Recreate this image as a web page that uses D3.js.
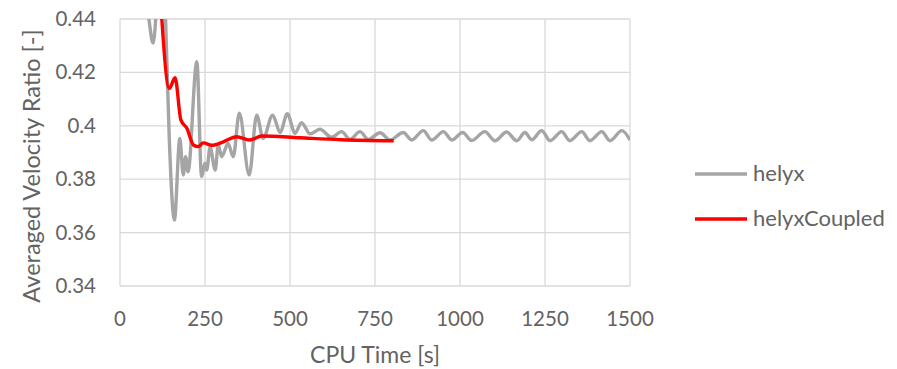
<!DOCTYPE html>
<html>
<head>
<meta charset="utf-8">
<script src="https://cdn.jsdelivr.net/npm/d3@7"></script>
<style>
  body { margin: 0; background: #fff; }
  svg text { font-family: Lato, "Liberation Sans", sans-serif; fill: #636363; }
</style>
</head>
<body>
<script>
// values (CPU time in s, averaged velocity ratio)
const helyxTime = [60, 85, 97, 105, 115, 128, 134, 145, 160, 176, 186, 193, 200, 226, 240, 250, 255, 265, 280, 289, 299, 318, 333,
  351, 380, 402, 421, 449, 471, 492, 515, 534, 559, 588, 622, 652, 676, 706, 730, 765, 794, 833, 858, 892, 917, 951, 976,
  1008, 1034, 1073, 1103, 1137, 1167, 1191, 1211, 1240, 1265, 1299, 1323, 1358, 1382, 1417, 1441, 1476, 1500]
const helyxValue = [0.47, 0.44, 0.431, 0.44, 0.47, 0.46, 0.44, 0.395, 0.3647, 0.3953, 0.3816, 0.3884, 0.3828, 0.424, 0.381, 0.386,
  0.3834, 0.392, 0.3834, 0.3928, 0.3884, 0.3934, 0.3884, 0.4047, 0.3816, 0.404, 0.3953, 0.404, 0.3975, 0.4045, 0.3972, 0.4012,
  0.397, 0.3987, 0.3957, 0.3978, 0.3949, 0.3978, 0.3949, 0.3974, 0.3947, 0.3975, 0.3947, 0.3982, 0.3947, 0.3978, 0.3947,
  0.3975, 0.3945, 0.3978, 0.3944, 0.3977, 0.3944, 0.3975, 0.3948, 0.3982, 0.3944, 0.3978, 0.3944, 0.3978, 0.3944, 0.3978,
  0.3944, 0.3982, 0.3947]

const coupledTime = [110, 123, 145, 162, 179, 197, 216, 230, 245, 270, 304, 343, 382, 417, 530, 650, 805]
const coupledValue = [0.47, 0.44, 0.414, 0.418, 0.4022, 0.399, 0.3928, 0.3922, 0.3936, 0.3927, 0.394, 0.3959, 0.3947, 0.3962,
  0.3955, 0.3948, 0.3944]

const xTicks = [0, 250, 500, 750, 1000, 1250, 1500]
const yTicks = [0.34, 0.36, 0.38, 0.4, 0.42, 0.44]
const seriesNames = ['helyx', 'helyxCoupled']
const seriesColors = ['#a5a5a5', '#ff0000']

const width = 897, height = 369
const margin = {top: 19, right: 267, bottom: 83, left: 120}

const svg = d3.select('body').append('svg')
    .attr('width', width)
    .attr('height', height)

const xScale = d3.scaleLinear()
    .domain([0, 1500])
    .range([margin.left, width - margin.right])

const yScale = d3.scaleLinear()
    .domain([0.34, 0.44])
    .range([height - margin.bottom, margin.top])

// gridlines
svg.append('g').selectAll('line').data(yTicks)
    .enter().append('line')
    .attr('x1', xScale(0)).attr('x2', xScale(1500))
    .attr('y1', d => yScale(d)).attr('y2', d => yScale(d))
    .attr('stroke', '#d9d9d9').attr('stroke-width', 1.3)

svg.append('g').selectAll('line').data(xTicks)
    .enter().append('line')
    .attr('x1', d => xScale(d)).attr('x2', d => xScale(d))
    .attr('y1', yScale(0.34)).attr('y2', yScale(0.44))
    .attr('stroke', '#d9d9d9').attr('stroke-width', 1.3)

// tick labels
svg.append('g').selectAll('text').data(yTicks)
    .enter().append('text')
    .attr('x', 96)
    .attr('y', d => yScale(d) + 7)
    .attr('text-anchor', 'end')
    .attr('font-size', '20.5px')
    .text(d => d3.format('')(d))

svg.append('g').selectAll('text').data(xTicks)
    .enter().append('text')
    .attr('x', d => xScale(d))
    .attr('y', 326)
    .attr('text-anchor', 'middle')
    .attr('font-size', '20.5px')
    .text(d => d)

// axis titles
svg.append('text')
    .attr('x', xScale(750))
    .attr('y', 363)
    .attr('text-anchor', 'middle')
    .attr('font-size', '23px')
    .text('CPU Time [s]')

svg.append('text')
    .attr('transform', 'translate(40,166) rotate(-90)')
    .attr('text-anchor', 'middle')
    .attr('font-size', '23.5px')
    .text('Averaged Velocity Ratio [-]')

// clip lines to plot area
svg.append('clipPath').attr('id', 'plot')
  .append('rect')
    .attr('x', xScale(0)).attr('y', yScale(0.44))
    .attr('width', xScale(1500) - xScale(0))
    .attr('height', yScale(0.34) - yScale(0.44))

const line = d3.line()
    .x(d => xScale(d[0]))
    .y(d => yScale(d[1]))
    .curve(d3.curveMonotoneX)

const helyx = helyxTime.map((t, i) => [t, helyxValue[i]])
const coupled = coupledTime.map((t, i) => [t, coupledValue[i]])

svg.append('path')
    .datum(helyx)
    .attr('clip-path', 'url(#plot)')
    .attr('d', line)
    .attr('fill', 'none')
    .attr('stroke', seriesColors[0])
    .attr('stroke-width', 3.4)
    .attr('stroke-linejoin', 'round')

svg.append('path')
    .datum(coupled)
    .attr('clip-path', 'url(#plot)')
    .attr('d', line)
    .attr('fill', 'none')
    .attr('stroke', seriesColors[1])
    .attr('stroke-width', 3.4)
    .attr('stroke-linejoin', 'round')

// legend
const legend = svg.append('g').selectAll('g').data(seriesNames)
    .enter().append('g')
    .attr('transform', (d, i) => 'translate(695,' + (174 + i * 45) + ')')

legend.append('line')
    .attr('x1', 0).attr('x2', 52)
    .attr('stroke', (d, i) => seriesColors[i])
    .attr('stroke-width', 3.4)

legend.append('text')
    .attr('x', 58)
    .attr('y', 7)
    .attr('font-size', '22px')
    .text(d => d)
</script>
</body>
</html>
